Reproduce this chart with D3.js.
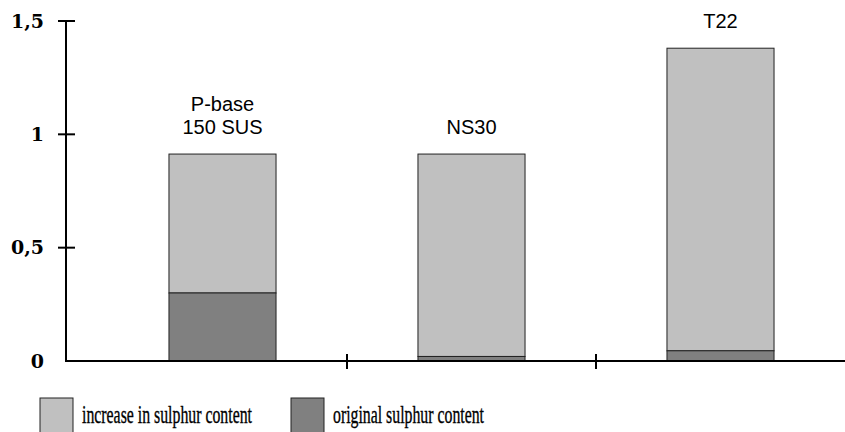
<!DOCTYPE html>
<html><head><meta charset="utf-8">
<script src="https://cdn.jsdelivr.net/npm/d3@7"></script>
<style>body{margin:0;background:#fff}svg{display:block}</style>
</head><body>
<svg id="c" width="845" height="432"></svg>
<script>
const categories = ["P-base\n150 SUS", "NS30", "T22"];
const original = [0.30, 0.02, 0.045];
const increase = [0.613, 0.893, 1.335];
const yTicks = [0, 0.5, 1, 1.5];
const yTickLabels = ["0", "0,5", "1", "1,5"];
const seriesNames = ["increase in sulphur content", "original sulphur content"];
const colors = {increase: "#c0c0c0", original: "#808080"};

const svg = d3.select("#c");
const y = d3.scaleLinear().domain([0, 1.5]).range([361, 21]);
const x = d3.scaleBand().domain(categories).range([98, 845]).paddingInner(0.57).paddingOuter(0.285);

const data = categories.map((c, i) => ({c, o: original[i], inc: increase[i]}));

// bars
const g = svg.append("g");
data.forEach(d => {
  g.append("rect").attr("x", x(d.c)).attr("width", x.bandwidth())
    .attr("y", y(d.o + d.inc)).attr("height", y(d.o) - y(d.o + d.inc))
    .attr("fill", colors.increase).attr("stroke", "#222").attr("stroke-width", 1);
  g.append("rect").attr("x", x(d.c)).attr("width", x.bandwidth())
    .attr("y", y(d.o)).attr("height", y(0) - y(d.o))
    .attr("fill", colors.original).attr("stroke", "#222").attr("stroke-width", 1);
});

// y axis
svg.append("line").attr("x1", 66).attr("x2", 66).attr("y1", y(1.5)).attr("y2", y(0))
  .attr("stroke", "#000").attr("stroke-width", 2);
yTicks.forEach((t, i) => {
  if (t > 0) svg.append("line").attr("x1", 58).attr("x2", 75).attr("y1", y(t)).attr("y2", y(t))
    .attr("stroke", "#000").attr("stroke-width", 2);
  svg.append("text").attr("x", 44).attr("y", y(t)).attr("dy", "0.35em").attr("text-anchor", "end")
    .attr("font-family", "DejaVu Serif").attr("font-weight", "bold").attr("font-size", 19)
    .text(yTickLabels[i]);
});

// x axis
svg.append("line").attr("x1", 65).attr("x2", 845).attr("y1", y(0)).attr("y2", y(0))
  .attr("stroke", "#000").attr("stroke-width", 2);
const step = x.step();
categories.slice(0, -1).forEach(c => {
  const bx = x(c) + x.bandwidth() / 2 + step / 2;
  svg.append("line").attr("x1", bx).attr("x2", bx).attr("y1", y(0) - 7).attr("y2", y(0) + 8)
    .attr("stroke", "#000").attr("stroke-width", 2);
});

// category labels
data.forEach(d => {
  const lines = d.c.split("\n");
  const base = y(d.o + d.inc) - 20;
  lines.forEach((l, j) => {
    svg.append("text").attr("x", x(d.c) + x.bandwidth() / 2)
      .attr("y", base - (lines.length - 1 - j) * 23)
      .attr("text-anchor", "middle").attr("font-family", "Liberation Sans").attr("font-size", 20)
      .text(l);
  });
});

// legend
const leg = [{n: seriesNames[0], c: colors.increase, x: 40, w: 170}, {n: seriesNames[1], c: colors.original, x: 291, w: 151}];
leg.forEach(l => {
  svg.append("rect").attr("x", l.x).attr("y", 398).attr("width", 33).attr("height", 40)
    .attr("fill", l.c).attr("stroke", "#222").attr("stroke-width", 1);
  svg.append("text").attr("x", l.x + 42).attr("y", 423).attr("font-family", "Liberation Serif")
    .attr("font-size", 25).attr("textLength", l.w).attr("lengthAdjust", "spacingAndGlyphs")
    .attr("stroke", "#000").attr("stroke-width", 0.35).text(l.n);
});
</script>
</body></html>
